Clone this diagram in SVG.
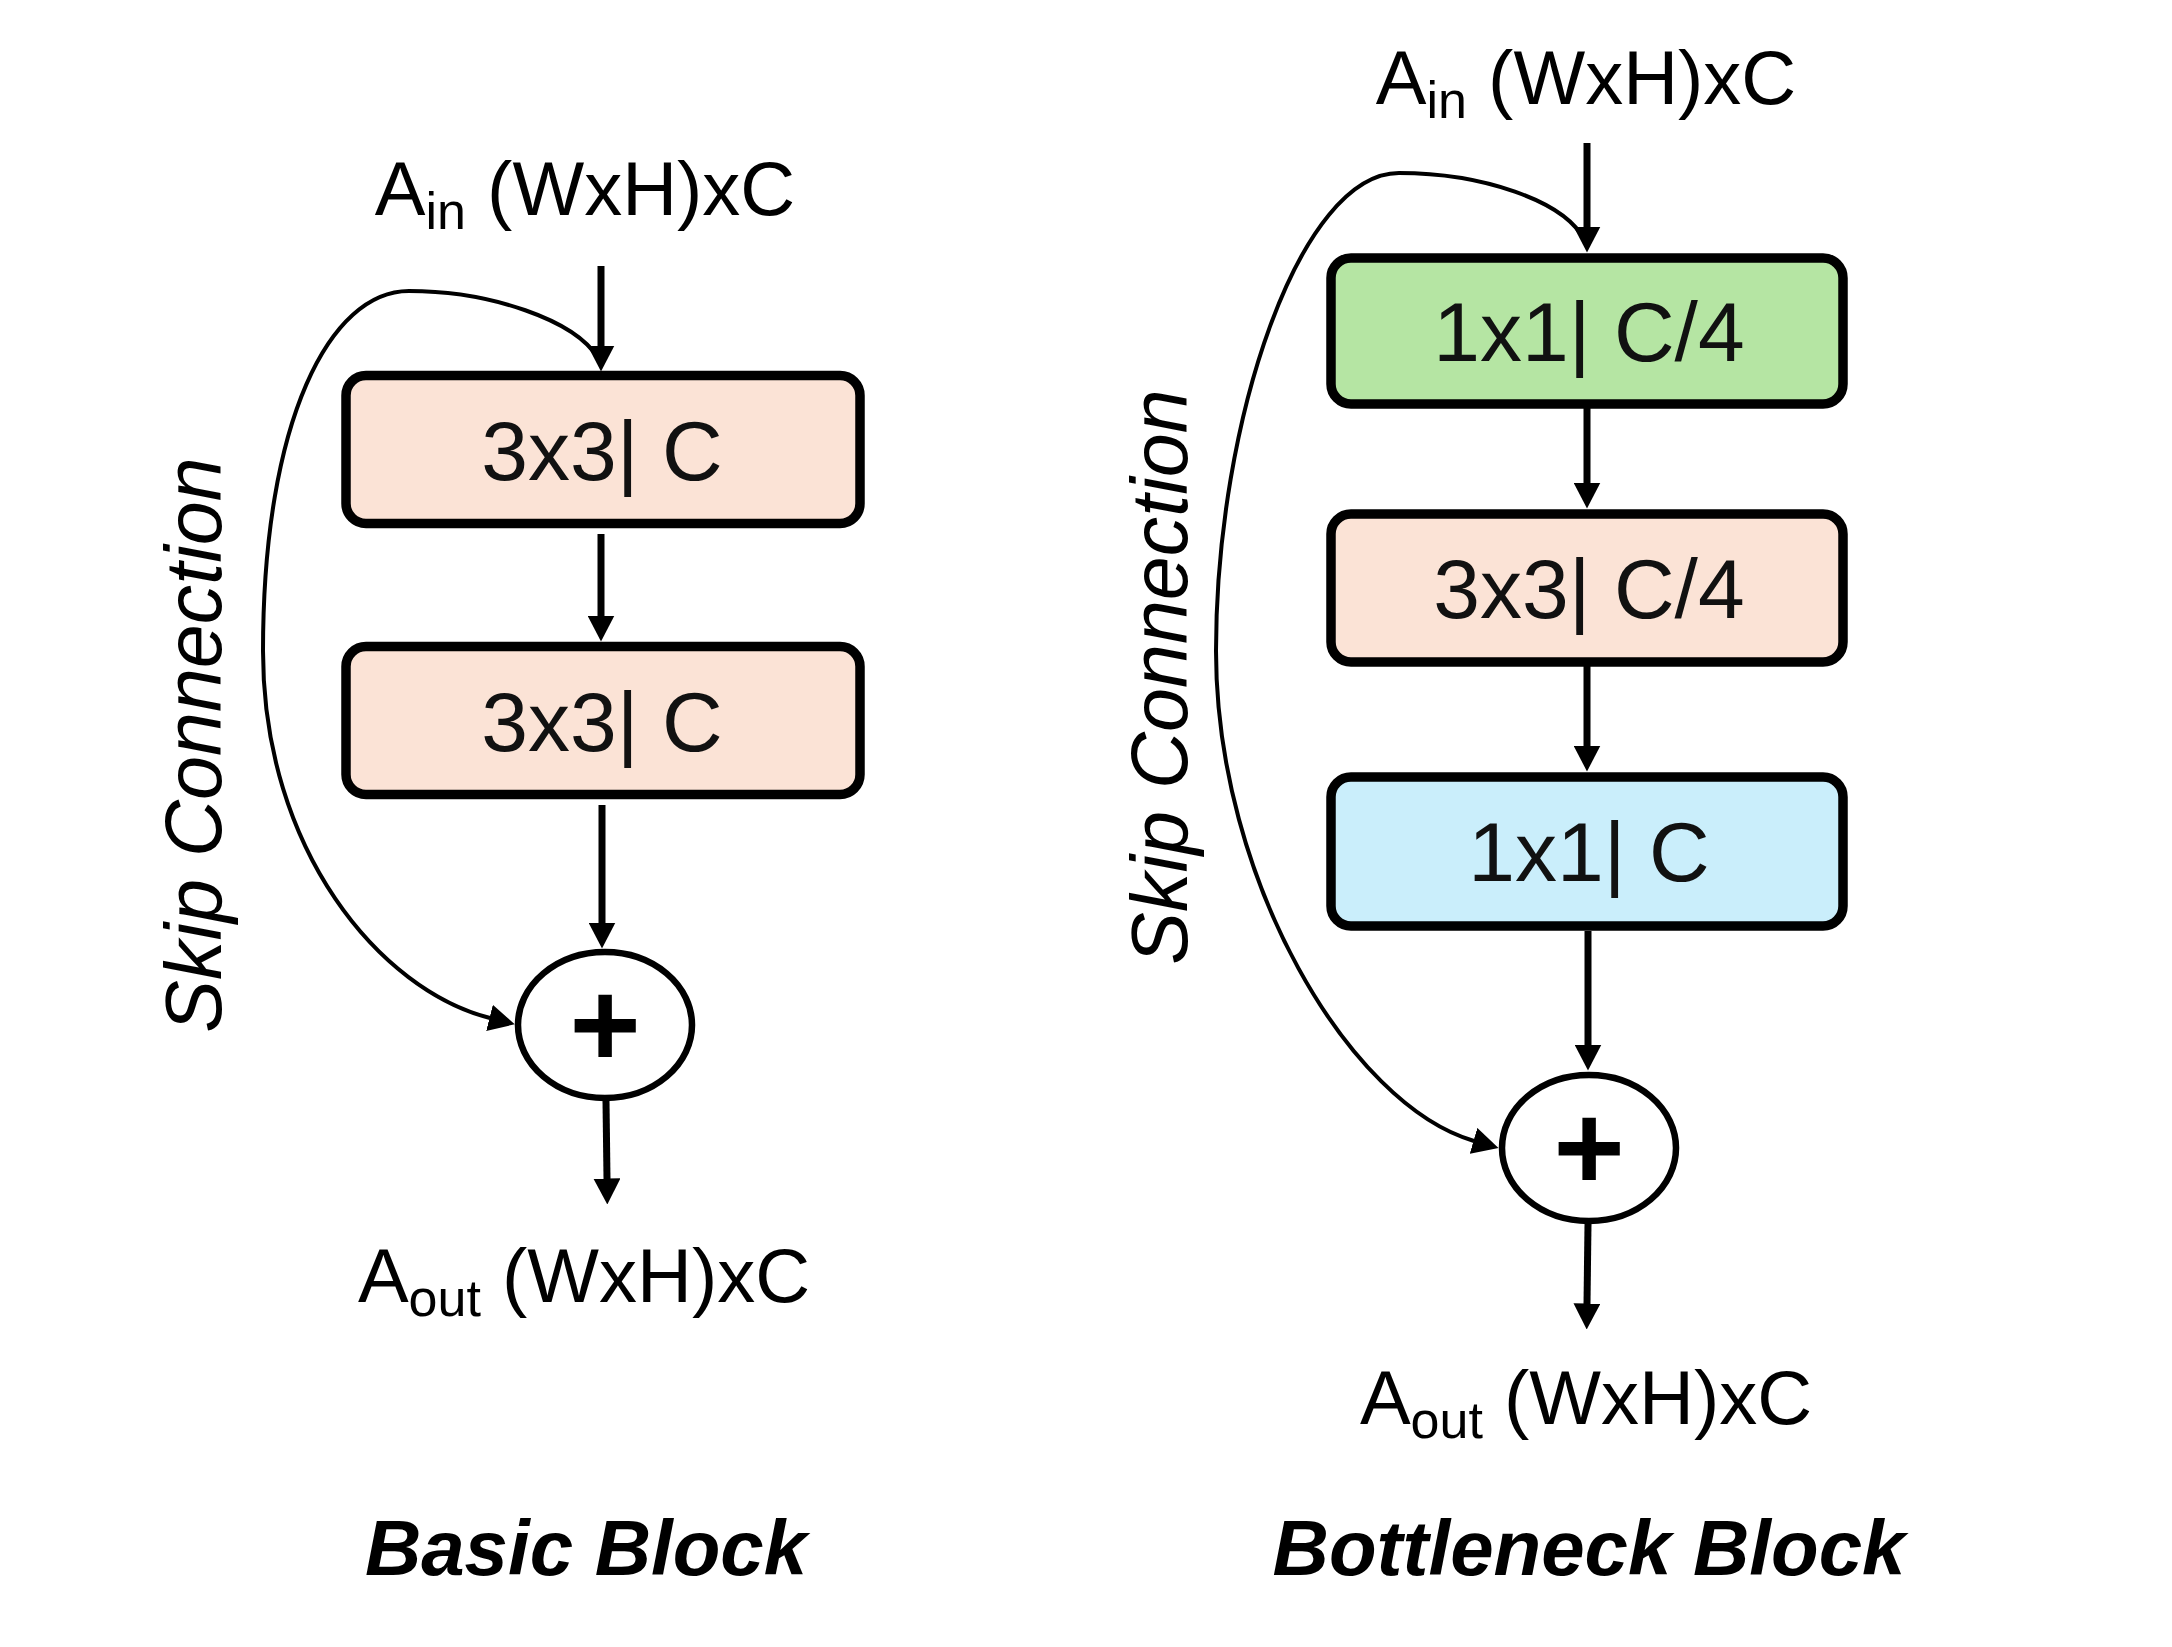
<svg xmlns="http://www.w3.org/2000/svg" width="2172" height="1647" viewBox="0 0 2172 1647">
<defs>
<style>
.box{stroke:#000;stroke-width:9.5}
.peach{fill:#FBE3D6}
.green{fill:#B5E5A3}
.blue{fill:#CAEEFB}
.lbl{font-family:"Liberation Sans",Arial,sans-serif;font-size:84px;text-anchor:middle;fill:#111}
.io{font-family:"Liberation Sans",Arial,sans-serif;font-size:76px;text-anchor:middle;fill:#000}
.sub{font-size:52px}
.skip{font-family:"Liberation Sans",Arial,sans-serif;font-size:79px;font-style:italic;text-anchor:middle;fill:#000}
.title{font-family:"Liberation Sans",Arial,sans-serif;font-size:78px;font-style:italic;font-weight:bold;text-anchor:middle;fill:#000}
.plus{font-family:"Liberation Sans",Arial,sans-serif;font-size:122px;font-weight:bold;text-anchor:middle;fill:#000}
.sum{fill:#fff;stroke:#000;stroke-width:6.5}
.arr{fill:none;stroke:#000;stroke-width:7;marker-end:url(#ah)}
.crv{fill:none;stroke:#000;stroke-width:4;marker-end:url(#ah)}
</style>
<marker id="ah" markerUnits="userSpaceOnUse" markerWidth="26" markerHeight="27" refX="0.5" refY="13.5" orient="auto" viewBox="0 0 26 27">
<path d="M0,0 L26,13.5 L0,27 z" fill="#000"/>
</marker>
</defs>
<rect width="2172" height="1647" fill="#fff"/>

<g id="connectors">
<path class="arr" d="M601 266 L601 346"/>
<path class="arr" d="M601 534 L601 616"/>
<path class="arr" d="M602 805 L602 923"/>
<path class="arr" d="M606 1101 L607 1179"/>
<path class="crv" d="M598 358 C575 320 490 291 409 291 C330 291 263 420 263 651 C263 850 380 990 490 1018"/>
<path class="arr" d="M1587 143 L1587 227"/>
<path class="arr" d="M1587 408 L1587 483"/>
<path class="arr" d="M1587 666 L1587 746"/>
<path class="arr" d="M1588 931 L1588 1045"/>
<path class="arr" d="M1588 1224 L1587 1304"/>
<path class="crv" d="M1585 241 C1565 200 1480 173 1399 173 C1300 173 1216 420 1216 651 C1216 880 1350 1105 1474 1141"/>
</g>

<g id="basic-in"><text class="io" x="585" y="215">A<tspan class="sub" dy="14">in</tspan><tspan dy="-14"> (WxH)xC</tspan></text></g>
<g id="basic-conv1"><rect class="box peach" x="346" y="375.5" width="514" height="148" rx="20"/><text class="lbl" x="602" y="480">3x3| C</text></g>
<g id="basic-conv2"><rect class="box peach" x="346" y="646.5" width="514" height="148" rx="20"/><text class="lbl" x="602" y="751">3x3| C</text></g>
<g id="basic-sum"><ellipse class="sum" cx="605" cy="1025" rx="87" ry="73"/><text class="plus" x="605" y="1067">+</text></g>
<g id="basic-out"><text class="io" x="584" y="1302">A<tspan class="sub" dy="14">out</tspan><tspan dy="-14"> (WxH)xC</tspan></text></g>
<g id="basic-skip"><text class="skip" transform="translate(221,745) rotate(-90)">Skip Connection</text></g>
<g id="basic-title"><text class="title" x="586" y="1575">Basic Block</text></g>

<g id="bn-in"><text class="io" x="1586" y="104">A<tspan class="sub" dy="14">in</tspan><tspan dy="-14"> (WxH)xC</tspan></text></g>
<g id="bn-conv1"><rect class="box green" x="1331" y="258" width="512" height="146" rx="20"/><text class="lbl" x="1589" y="361">1x1| C/4</text></g>
<g id="bn-conv2"><rect class="box peach" x="1331" y="514" width="512" height="148" rx="20"/><text class="lbl" x="1589" y="618">3x3| C/4</text></g>
<g id="bn-conv3"><rect class="box blue" x="1331" y="777" width="512" height="149" rx="20"/><text class="lbl" x="1589" y="881">1x1| C</text></g>
<g id="bn-sum"><ellipse class="sum" cx="1589" cy="1148" rx="87" ry="73"/><text class="plus" x="1589" y="1190">+</text></g>
<g id="bn-out"><text class="io" x="1586" y="1424">A<tspan class="sub" dy="14">out</tspan><tspan dy="-14"> (WxH)xC</tspan></text></g>
<g id="bn-skip"><text class="skip" transform="translate(1187,677) rotate(-90)">Skip Connection</text></g>
<g id="bn-title"><text class="title" x="1589" y="1575">Bottleneck Block</text></g>
</svg>
